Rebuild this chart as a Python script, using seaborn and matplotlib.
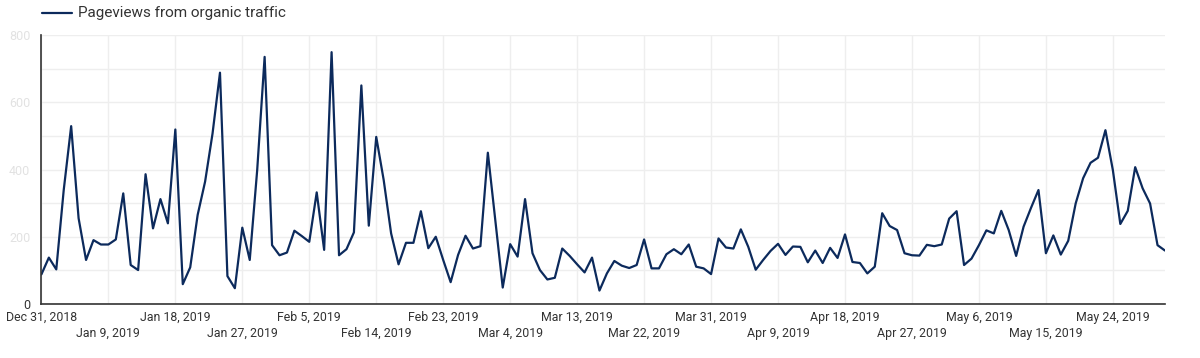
import numpy as np
import pandas as pd
import matplotlib
matplotlib.use("Agg")
import matplotlib.pyplot as plt
import matplotlib.ticker as mticker
import matplotlib.dates as mdates
import seaborn as sns

series_name = "Pageviews from organic traffic"
start_date = "2018-12-31"
pageviews = [
    88, 138, 103, 339, 529, 255, 131, 190, 177, 177,
    192, 329, 116, 101, 386, 225, 312, 240, 519, 59,
    109, 265, 364, 507, 688, 83, 47, 227, 131, 398,
    735, 175, 145, 153, 218, 202, 185, 332, 161, 749,
    145, 163, 213, 650, 233, 497, 369, 210, 118, 182,
    182, 276, 166, 200, 131, 65, 146, 203, 165, 172,
    450, 250, 49, 178, 141, 312, 151, 101, 73, 78,
    165, 143, 118, 94, 138, 40, 91, 128, 114, 107,
    116, 192, 106, 106, 148, 163, 148, 177, 111, 106,
    89, 195, 168, 165, 222, 170, 102, 131, 158, 179,
    146, 171, 170, 124, 159, 122, 167, 137, 207, 125,
    122, 91, 111, 270, 232, 220, 151, 145, 144, 176,
    172, 177, 254, 276, 116, 135, 175, 219, 210, 277,
    220, 143, 230, 286, 339, 151, 204, 147, 188, 299,
    374, 420, 435, 517, 398, 238, 277, 407, 344, 299,
    175, 159,
]
y_ticks = [0, 200, 400, 600, 800]
y_tick_labels = ["0", "200", "400", "600", "800"]
x_tick_dates = ["2018-12-31", "2019-01-09", "2019-01-18", "2019-01-27", "2019-02-05",
                "2019-02-14", "2019-02-23", "2019-03-04", "2019-03-13", "2019-03-22",
                "2019-03-31", "2019-04-09", "2019-04-18", "2019-04-27", "2019-05-06",
                "2019-05-15", "2019-05-24"]
x_tick_labels = ["Dec 31, 2018", "Jan 9, 2019", "Jan 18, 2019", "Jan 27, 2019", "Feb 5, 2019",
                 "Feb 14, 2019", "Feb 23, 2019", "Mar 4, 2019", "Mar 13, 2019", "Mar 22, 2019",
                 "Mar 31, 2019", "Apr 9, 2019", "Apr 18, 2019", "Apr 27, 2019", "May 6, 2019",
                 "May 15, 2019", "May 24, 2019"]

dates = pd.date_range(start_date, periods=len(pageviews), freq="D")
df = pd.DataFrame({"date": dates, "value": pageviews})

sns.set_style("white")
plt.rcParams["font.family"] = ["Roboto", "DejaVu Sans"]

fig = plt.figure(figsize=(12, 3.58), dpi=100)
ax = fig.add_axes([0.0345, 0.1508, 0.9363, 0.7514])

line_color = "#0c2a5c"
sns.lineplot(data=df, x="date", y="value", ax=ax, color=line_color, linewidth=1.6,
             label=series_name, legend=False)

ax.set_xlim(dates[0], dates[-1])
ax.set_ylim(0, 800)

tick_num = mdates.date2num(pd.to_datetime(x_tick_dates))
ax.xaxis.set_major_locator(mticker.FixedLocator(list(tick_num[0::2])))
ax.xaxis.set_major_formatter(mticker.FixedFormatter(x_tick_labels[0::2]))
ax.xaxis.set_minor_locator(mticker.FixedLocator(list(tick_num[1::2])))
ax.xaxis.set_minor_formatter(mticker.FixedFormatter(x_tick_labels[1::2]))
ax.tick_params(axis="x", which="major", length=0, pad=5, labelsize=8.9, labelcolor="#333333")
ax.tick_params(axis="x", which="minor", length=0, pad=16.5, labelsize=8.9, labelcolor="#333333")

ax.set_yticks(y_ticks)
ax.set_yticks(np.arange(0, 801, 100), minor=True)
ax.set_yticklabels(y_tick_labels, fontsize=9.0)
for i, t in enumerate(ax.get_yticklabels()):
    t.set_color("#333333" if i == 0 else "#e2e2e2")
ax.tick_params(axis="y", length=0, pad=8, which="both")

ax.grid(True, which="both", axis="both", color="#eeeeee", linewidth=1)
ax.set_axisbelow(True)

for s in ["top", "right"]:
    ax.spines[s].set_visible(False)
ax.spines["left"].set_color("#333333")
ax.spines["bottom"].set_color("#333333")
ax.spines["left"].set_linewidth(1.2)
ax.spines["bottom"].set_linewidth(1.2)
ax.set_xlabel("")
ax.set_ylabel("")

# legend at top left
fig.lines.append(plt.Line2D([42 / 1200, 72 / 1200], [1 - 13 / 358, 1 - 13 / 358],
                            transform=fig.transFigure, color=line_color, linewidth=1.6))
fig.text(78 / 1200, 1 - 13 / 358, series_name, fontsize=11, color="#333333",
         va="center", ha="left")

fig.savefig("out.png", dpi=100)
